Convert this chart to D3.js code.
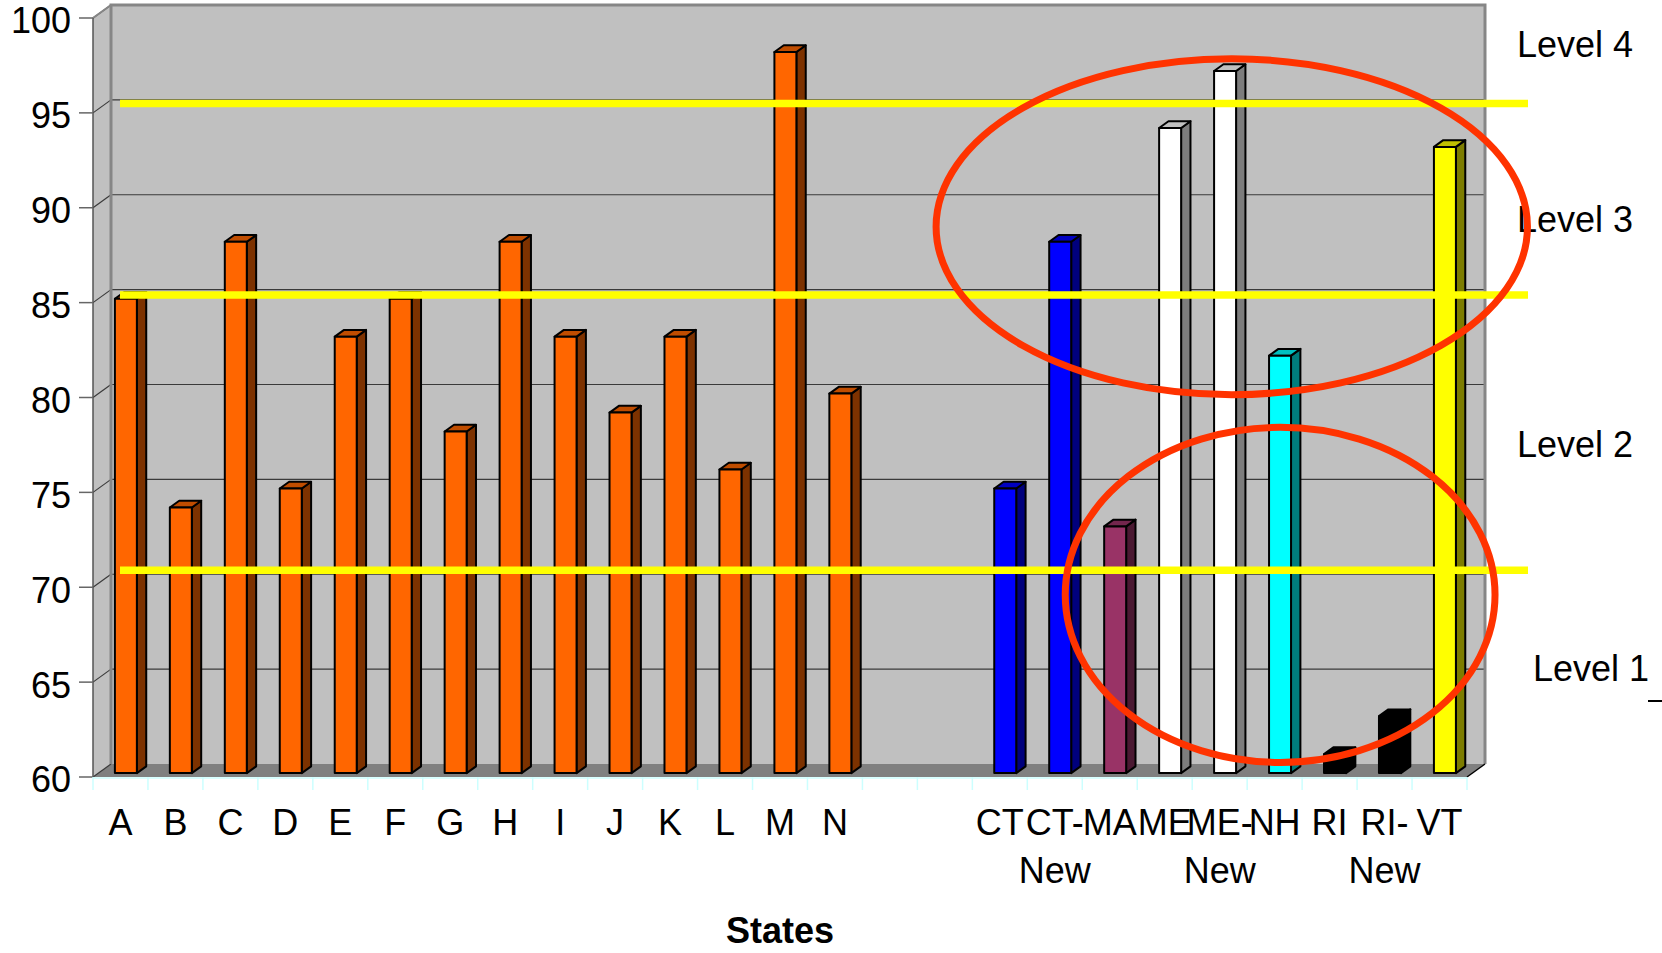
<!DOCTYPE html>
<html>
<head>
<meta charset="utf-8">
<script src="https://cdn.jsdelivr.net/npm/d3@7"></script>
<style>
  html, body { margin: 0; padding: 0; background: #ffffff; }
  svg { display: block; font-family: "Liberation Sans", Arial, sans-serif; }
</style>
</head>
<body>
<svg id="chart" width="1662" height="953"></svg>
<script>
// Categories along the x axis ("" = empty slot between the two groups)
const categories = ["A","B","C","D","E","F","G","H","I","J","K","L","M","N",
  "","","CT","CT-New","MA","ME","ME-New","NH","RI","RI-New","VT"];

// Score per category
const values = [85,74,88,75,83,85,78,88,83,79,83,76,98,80,
  null,null,75,88,73,94,97,82,61,63,93];

// Face colour per category
const barColors = ["#FF6600","#FF6600","#FF6600","#FF6600","#FF6600","#FF6600","#FF6600",
  "#FF6600","#FF6600","#FF6600","#FF6600","#FF6600","#FF6600","#FF6600",
  null,null,"#0000FF","#0000FF","#993366","#FFFFFF","#FFFFFF","#00FFFF","#000000","#000000","#FFFF00"];

// Value axis ticks
const yTicks = [60,65,70,75,80,85,90,95,100];

// Cut scores separating the performance levels
const levelCuts = [70.9, 85.4, 95.5];
const levelNames = ["Level 4","Level 3","Level 2","Level 1"];

// Highlight ellipses, in category-index / value units
const highlightCx = [20.72, 21.6];
const highlightCy = [89.0, 69.6];
const highlightRx = [5.38, 3.91];
const highlightRy = [8.85, 8.83];

const svg = d3.select("#chart");

// Plot frame (front plane) and 3-D depth offset
const x = d3.scaleBand().domain(d3.range(categories.length)).range([93, 1467]).padding(0);
const y = d3.scaleLinear().domain([60, 100]).range([777, 18]);
const DX = 18, DY = -13;
const bw = x.bandwidth();
const P = (px, v, d) => [px + DX * d, y(v) + DY * d];
const poly = pts => pts.map(p => p.join(",")).join(" ");

const [r0, r1] = x.range();
const [vMin, vMax] = y.domain();

// Walls and floor
const walls = svg.append("g");
walls.append("polygon")
  .attr("points", poly([P(r0, vMax, 0), P(r0, vMax, 1), P(r0, vMin, 1), P(r0, vMin, 0)]))
  .attr("fill", "#C0C0C0").attr("stroke", "none");
walls.append("rect")
  .attr("x", P(r0, vMax, 1)[0]).attr("y", P(r0, vMax, 1)[1])
  .attr("width", r1 - r0).attr("height", y(vMin) - y(vMax))
  .attr("fill", "#C0C0C0");
walls.append("polygon")
  .attr("points", poly([P(r0, vMin, 0), P(r1, vMin, 0), P(r1, vMin, 1), P(r0, vMin, 1)]))
  .attr("fill", "#808080");

// Gridlines on back wall and left wall
const grid = svg.append("g");
yTicks.filter(t => t > vMin && t < vMax).forEach(t => {
  const a = P(r0, t, 1), b = P(r1, t, 1);
  grid.append("line").attr("x1", a[0]).attr("y1", a[1]).attr("x2", b[0]).attr("y2", b[1])
    .attr("stroke", "#3a3a3a").attr("stroke-width", 1.2);
});
yTicks.forEach(t => {
  const a = P(r0, t, 0), b = P(r0, t, 1);
  grid.append("line").attr("x1", a[0]).attr("y1", a[1]).attr("x2", b[0]).attr("y2", b[1])
    .attr("stroke", "#3a3a3a").attr("stroke-width", 1.2);
});

// Wall borders
const tl = P(r0, vMax, 1), tr = P(r1, vMax, 1), br = P(r1, vMin, 1), bl = P(r0, vMin, 1);
svg.append("polyline")
  .attr("points", poly([bl, tl, tr, br]))
  .attr("fill", "none").attr("stroke", "#868686").attr("stroke-width", 3);
svg.append("line")
  .attr("x1", P(r0, vMax, 0)[0]).attr("y1", P(r0, vMax, 0)[1])
  .attr("x2", tl[0]).attr("y2", tl[1])
  .attr("stroke", "#868686").attr("stroke-width", 2);
svg.append("line")
  .attr("x1", r0).attr("y1", y(vMax)).attr("x2", r0).attr("y2", y(vMin))
  .attr("stroke", "#555").attr("stroke-width", 1.5);
svg.append("line")
  .attr("x1", P(r1, vMin, 0)[0]).attr("y1", P(r1, vMin, 0)[1])
  .attr("x2", br[0]).attr("y2", br[1])
  .attr("stroke", "#000").attr("stroke-width", 1.5);

// Value axis ticks and labels
const yAxis = svg.append("g");
yTicks.forEach(t => {
  yAxis.append("line").attr("x1", r0 - 14).attr("x2", r0).attr("y1", y(t)).attr("y2", y(t))
    .attr("stroke", "#666").attr("stroke-width", 1.5);
  yAxis.append("text").attr("x", r0 - 22).attr("y", y(t)).attr("dy", "0.43em")
    .attr("text-anchor", "end").attr("font-size", 36).attr("fill", "#000").text(t);
});

// Category axis (light cyan baseline and ticks)
const xAxis = svg.append("g");
xAxis.append("line").attr("x1", r0).attr("x2", r1).attr("y1", y(vMin) + 1).attr("y2", y(vMin) + 1)
  .attr("stroke", "#CCFFFF").attr("stroke-width", 1.5);
d3.range(categories.length + 1).forEach(i => {
  const xx = r0 + i * bw;
  xAxis.append("line").attr("x1", xx).attr("x2", xx).attr("y1", y(vMin)).attr("y2", y(vMin) + 13)
    .attr("stroke", "#CCFFFF").attr("stroke-width", 1.5);
});
categories.forEach((c, i) => {
  if (!c) return;
  const lines = c.includes("-") ? [c.slice(0, c.indexOf("-") + 1), c.slice(c.indexOf("-") + 1)] : [c];
  const t = xAxis.append("text").attr("x", x(i) + bw / 2).attr("y", 835)
    .attr("text-anchor", "middle").attr("font-size", 36).attr("fill", "#000");
  lines.forEach((ln, k) => {
    t.append("tspan").attr("x", x(i) + bw / 2).attr("dy", k === 0 ? 0 : 48).text(ln);
  });
});

// Columns
const d0 = 0.3, d1 = 0.82;
const bars = svg.append("g");
values.forEach((v, i) => {
  if (v == null) return;
  const col = d3.color(barColors[i]);
  const side = col.darker(2).formatHex();
  const top = col.darker(0.8).formatHex();
  const xa = x(i) + bw * 0.3, xb = x(i) + bw * 0.7;
  const g = bars.append("g").attr("stroke", "#000").attr("stroke-width", 2).attr("stroke-linejoin", "round");
  g.append("polygon").attr("points", poly([P(xb, v, d0), P(xb, v, d1), P(xb, vMin, d1), P(xb, vMin, d0)]))
    .attr("fill", side);
  g.append("polygon").attr("points", poly([P(xa, v, d0), P(xb, v, d0), P(xb, v, d1), P(xa, v, d1)]))
    .attr("fill", top);
  g.append("polygon").attr("points", poly([P(xa, v, d0), P(xb, v, d0), P(xb, vMin, d0), P(xa, vMin, d0)]))
    .attr("fill", barColors[i]);
});

// Level cut lines
const cuts = svg.append("g");
levelCuts.forEach(c => {
  cuts.append("line").attr("x1", r0 + 27).attr("x2", r1 + 61)
    .attr("y1", y(c)).attr("y2", y(c))
    .attr("stroke", "#FFFF00").attr("stroke-width", 7.5);
});

// Level names
const levelPos = [[1517, 57], [1517, 232], [1517, 457], [1533, 681]];
levelNames.forEach((n, k) => {
  svg.append("text").attr("x", levelPos[k][0]).attr("y", levelPos[k][1])
    .attr("font-size", 36).attr("fill", "#000").text(n);
});
svg.append("line").attr("x1", 1648).attr("x2", 1662).attr("y1", 701).attr("y2", 701)
  .attr("stroke", "#000").attr("stroke-width", 2);

// Highlight ellipses
highlightCx.forEach((cx, k) => {
  svg.append("ellipse")
    .attr("cx", r0 + cx * bw)
    .attr("cy", y(highlightCy[k]))
    .attr("rx", highlightRx[k] * bw)
    .attr("ry", y(vMin) - y(vMin + highlightRy[k]))
    .attr("fill", "none").attr("stroke", "#FF3300").attr("stroke-width", 7);
});

// Axis title
svg.append("text").attr("x", 780).attr("y", 943).attr("text-anchor", "middle")
  .attr("font-size", 36).attr("font-weight", "bold").attr("fill", "#000").text("States");
</script>
</body>
</html>
